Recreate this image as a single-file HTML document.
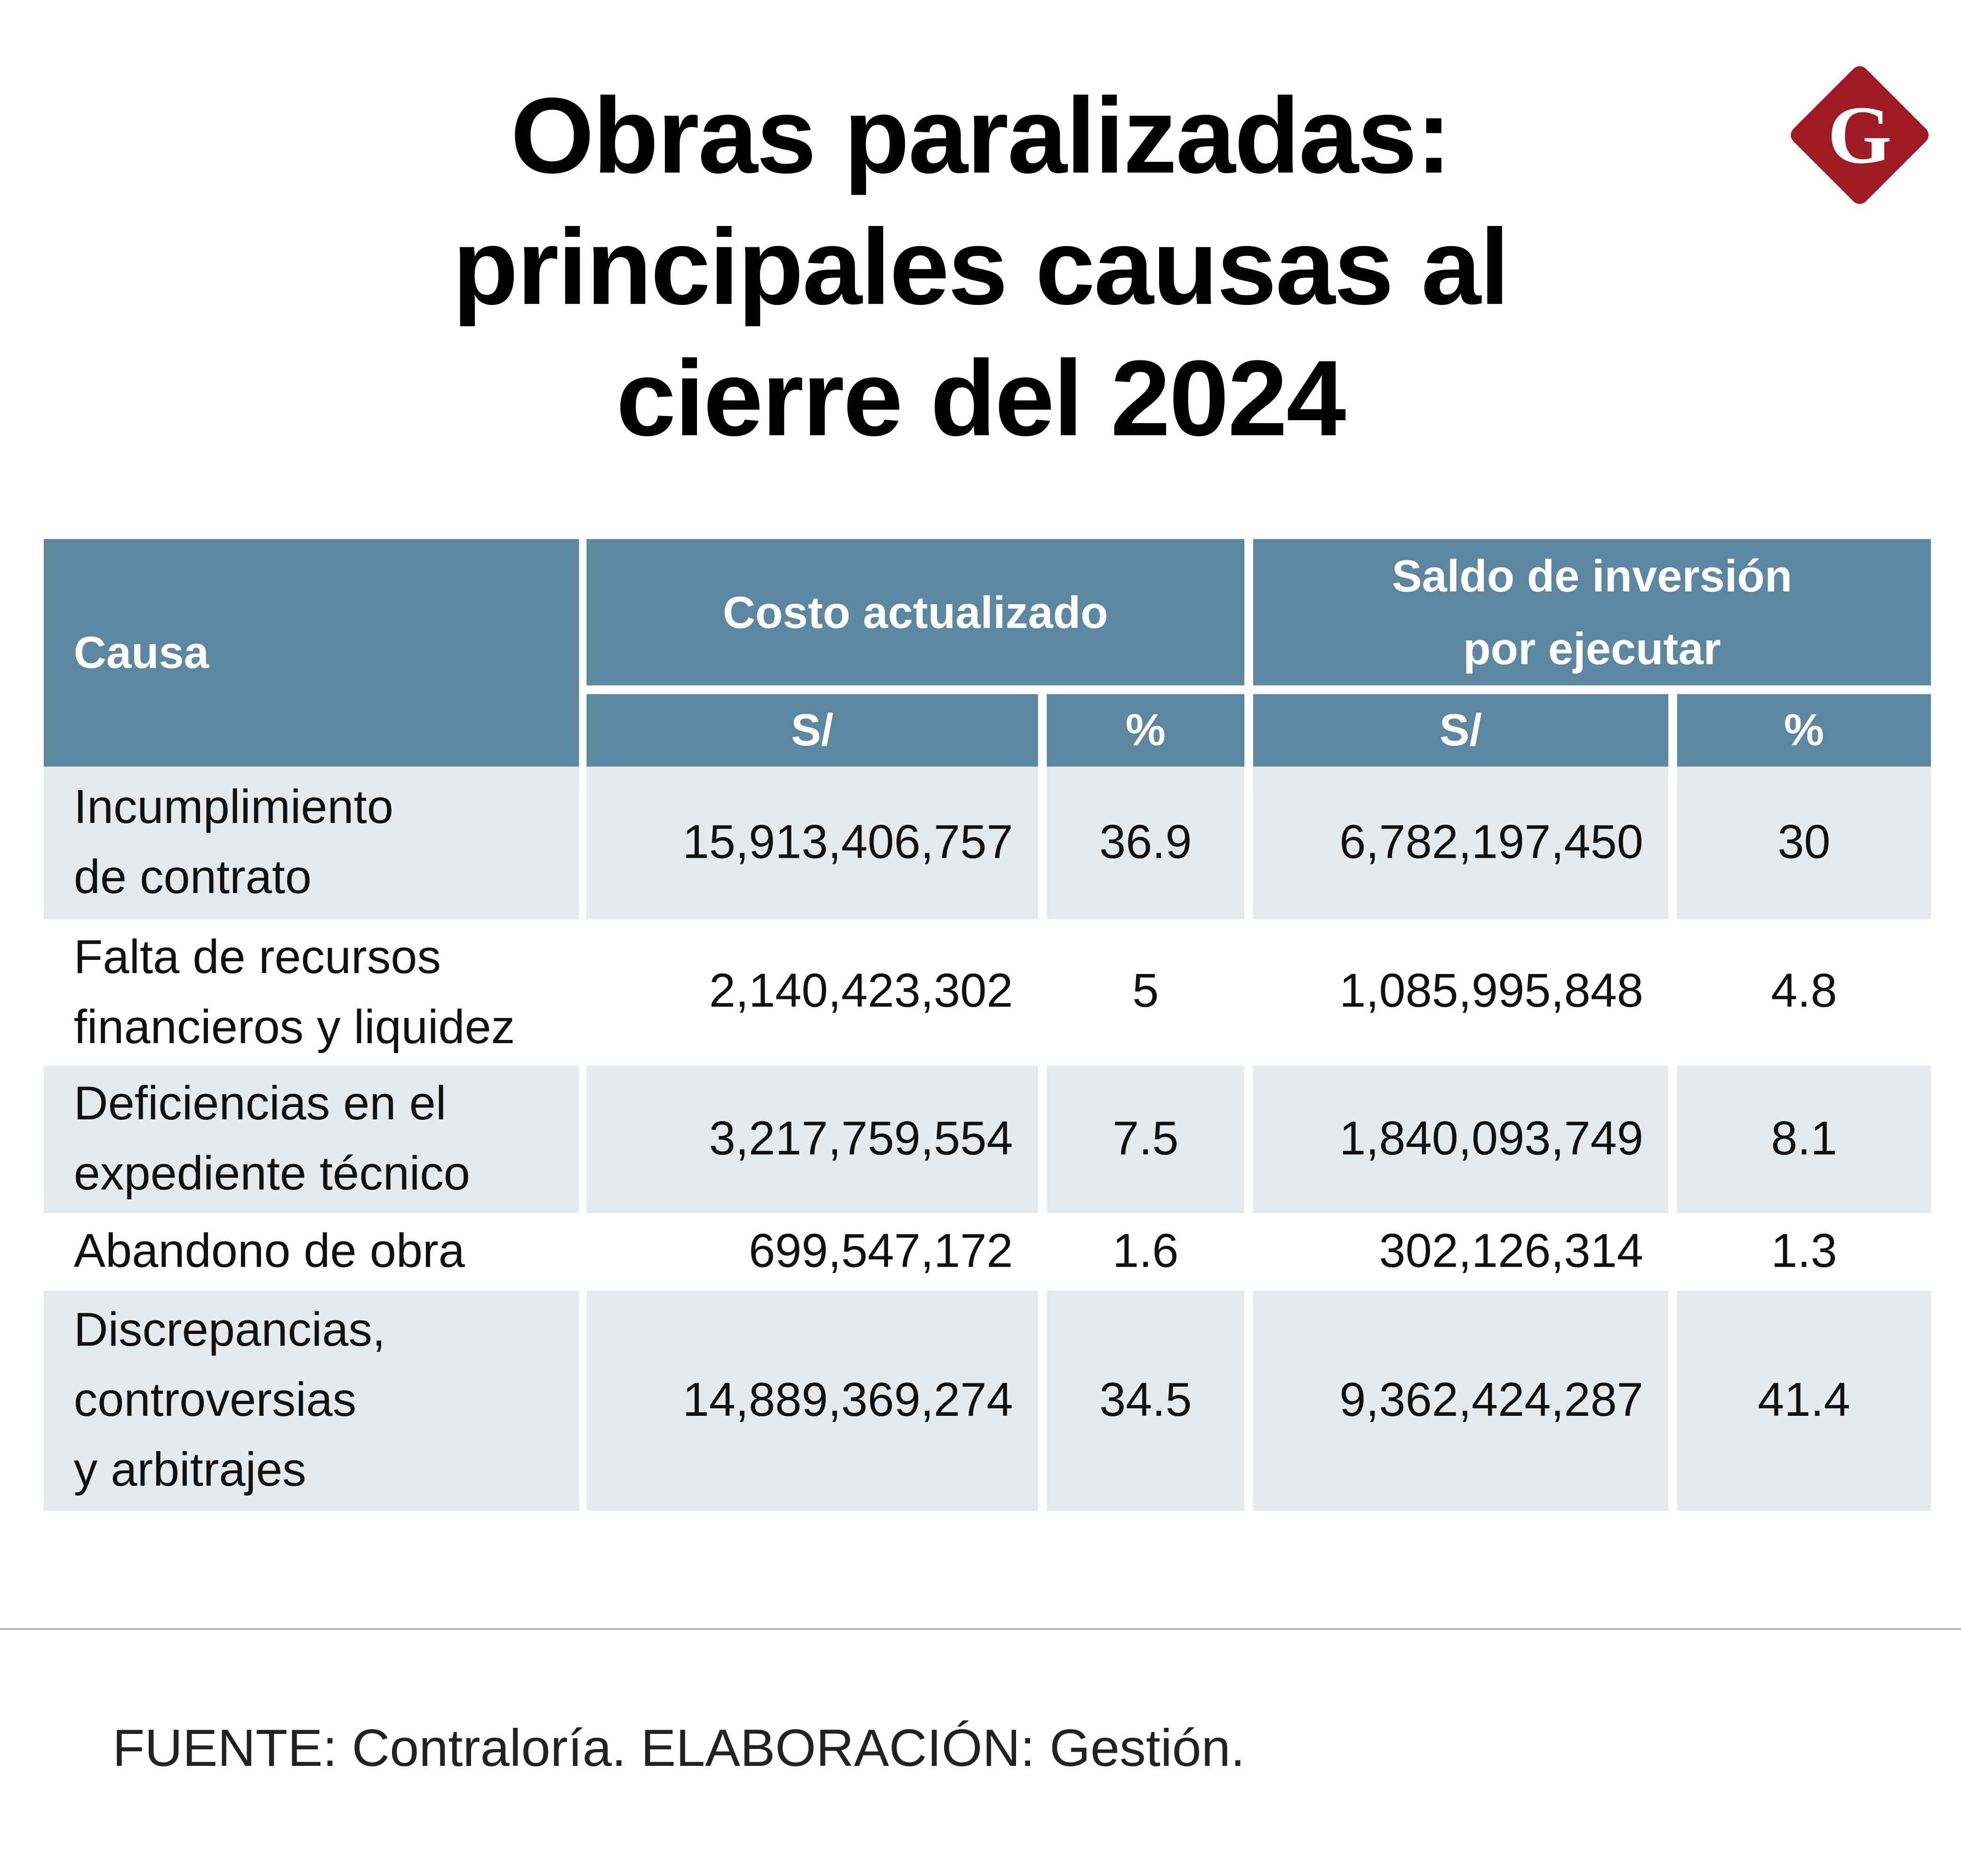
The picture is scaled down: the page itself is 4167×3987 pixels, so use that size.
<!DOCTYPE html>
<html><head><meta charset="utf-8"><style>
html,body{margin:0;padding:0;background:#fff;}
body{width:4167px;height:3987px;overflow:hidden;position:relative;}
#s{position:absolute;left:0;top:0;width:1568px;height:1500px;transform:scale(2.6575,2.658);transform-origin:0 0;font-family:"Liberation Sans",sans-serif;}
.a{position:absolute;}
.t{left:0;width:1568px;text-align:center;font-weight:bold;font-size:86px;line-height:105px;color:#000;letter-spacing:-1px;}
.h{background:#5b87a0;color:#fff;font-weight:bold;font-size:36px;display:flex;align-items:center;justify-content:center;}
.g{background:#e7eaed;}
.c{font-size:38px;color:#111;display:flex;align-items:center;}
.l{padding-left:24px;box-sizing:border-box;line-height:56px;}
.r{justify-content:flex-end;padding-right:20px;box-sizing:border-box;}
.m{justify-content:center;}
</style></head><body><div id="s">
<div class="a t" style="top:57px">Obras paralizadas:</div>
<div class="a t" style="top:162px">principales causas al</div>
<div class="a t" style="top:267px">cierre del 2024</div>
<svg class="a" style="left:1426px;top:47px" width="122" height="122" viewBox="-61 -61 122 122">
<rect x="-41" y="-41" width="82" height="82" rx="7" transform="rotate(45)" fill="#9e1b24"/>
<text x="0" y="22" text-anchor="middle" font-family="Liberation Serif,serif" font-weight="bold" font-size="66" fill="#fff">G</text></svg>

<div class="a h" style="left:35px;top:431px;width:428px;height:182px;justify-content:flex-start;padding-left:24px;box-sizing:border-box">Causa</div>
<div class="a h" style="left:469px;top:431px;width:526px;height:117px">Costo actualizado</div>
<div class="a h" style="left:1002px;top:431px;width:542px;height:117px;text-align:center;line-height:58px">Saldo de inversión<br>por ejecutar</div>
<div class="a h" style="left:469px;top:555px;width:361px;height:58px">S/</div>
<div class="a h" style="left:837px;top:555px;width:158px;height:58px">%</div>
<div class="a h" style="left:1002px;top:555px;width:332px;height:58px">S/</div>
<div class="a h" style="left:1341px;top:555px;width:203px;height:58px">%</div>

<div class="a" style="left:0;top:1302px;width:1568px;height:1px;background:#999"></div>
<div class="a" style="left:90px;top:1374px;font-size:42px;color:#222">FUENTE: Contraloría. ELABORACIÓN: Gestión.</div>
</div>
<script>
const causes=["Incumplimiento<br>de contrato","Falta de recursos<br>financieros y liquidez","Deficiencias en el<br>expediente técnico","Abandono de obra","Discrepancias,<br>controversias<br>y arbitrajes"];
const costoSoles=["15,913,406,757","2,140,423,302","3,217,759,554","699,547,172","14,889,369,274"];
const costoPct=["36.9","5","7.5","1.6","34.5"];
const saldoSoles=["6,782,197,450","1,085,995,848","1,840,093,749","302,126,314","9,362,424,287"];
const saldoPct=["30","4.8","8.1","1.3","41.4"];
const rowTops=[613,735,852,970,1032,1208];
const cols=[[35,428,'l'],[469,361,'r'],[837,158,'m'],[1002,332,'r'],[1341,203,'m']];
const s=document.getElementById('s');
for(let i=0;i<causes.length;i++){
  const vals=[causes[i],costoSoles[i],costoPct[i],saldoSoles[i],saldoPct[i]];
  const top=rowTops[i],h=rowTops[i+1]-rowTops[i];
  for(let j=0;j<5;j++){
    const d=document.createElement('div');
    d.className='a c '+cols[j][2]+(i%2===0?' g':'');
    d.style.left=cols[j][0]+'px';d.style.top=top+'px';d.style.width=cols[j][1]+'px';d.style.height=h+'px';
    d.innerHTML=vals[j];
    
    
    s.appendChild(d);
  }
}
</script>
</body></html>
